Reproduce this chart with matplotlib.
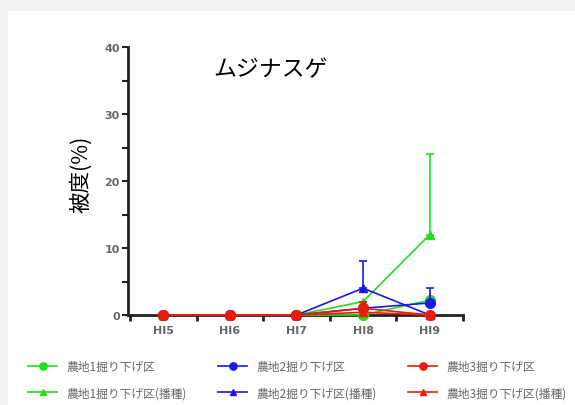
"""Cover (%) of ムジナスゲ per plot, HI5-HI9."""
import matplotlib

matplotlib.use("Agg")
import matplotlib.pyplot as plt  # noqa: E402
from matplotlib.patches import Rectangle  # noqa: E402
from matplotlib.ticker import MultipleLocator  # noqa: E402

plt.rcParams["font.family"] = ["Noto Sans CJK JP", "DejaVu Sans"]

years = ["HI5", "HI6", "HI7", "HI8", "HI9"]

plot1_mean = [0, 0, 0, 0, 2.2]
plot1_err = [0, 0, 0, 0, 0]
plot1_sown_mean = [0, 0, 0, 2.0, 12.0]
plot1_sown_err = [0, 0, 0, 0, 12.0]

plot2_mean = [0, 0, 0, 1.0, 1.8]
plot2_err = [0, 0, 0, 0, 2.2]
plot2_sown_mean = [0, 0, 0, 4.0, 0]
plot2_sown_err = [0, 0, 0, 4.0, 0]

plot3_mean = [0, 0, 0, 1.0, 0]
plot3_err = [0, 0, 0, 1.0, 0]
plot3_sown_mean = [0, 0, 0, 0.4, 0]
plot3_sown_err = [0, 0, 0, 0, 0]

labels = [
    "農地1掘り下げ区", "農地1掘り下げ区(播種)",
    "農地2掘り下げ区", "農地2掘り下げ区(播種)",
    "農地3掘り下げ区", "農地3掘り下げ区(播種)",
]

GREEN = "#22dd22"
BLUE = "#1a1ae0"
RED = "#ee1a0a"

fig = plt.figure(figsize=(5.75, 4.06), dpi=100)
fig.patch.set_facecolor("#f0f0f0")
fig.add_artist(Rectangle((8 / 575, 0), 1, 1 - 12 / 406, transform=fig.transFigure,
                         facecolor="white", edgecolor="none", zorder=0))

ax = fig.add_axes([128 / 575, 1 - 316 / 406, 335 / 575, 268 / 406])
ax.set_facecolor("none")

x = list(range(len(years)))
series = [
    (plot1_mean, plot1_err, GREEN, "o"),
    (plot1_sown_mean, plot1_sown_err, GREEN, "^"),
    (plot2_mean, plot2_err, BLUE, "o"),
    (plot2_sown_mean, plot2_sown_err, BLUE, "^"),
    (plot3_mean, plot3_err, RED, "o"),
    (plot3_sown_mean, plot3_sown_err, RED, "^"),
]
handles = []
for i, (mean, err, color, marker) in enumerate(series):
    ms = 7 if marker == "o" else 6
    eb = ax.errorbar(x, mean, yerr=[[0] * len(err), err], color=color, marker=marker,
                     ms=ms, lw=1.2, elinewidth=1.2, capsize=3, capthick=1.2,
                     clip_on=False, zorder=3 + i)
    for art in eb.lines[1] + eb.lines[2]:
        art.set_clip_on(False)
    handles.append(eb.lines[0])

ax.set_xlim(-0.53, 4.5)
ax.set_ylim(0, 40)
ax.set_xticks(x)
ax.set_xticklabels(years)
ax.xaxis.set_minor_locator(MultipleLocator(1, offset=0.5))
ax.yaxis.set_major_locator(MultipleLocator(10))
ax.yaxis.set_minor_locator(MultipleLocator(5))

for side in ("top", "right"):
    ax.spines[side].set_visible(False)
for side in ("left", "bottom"):
    ax.spines[side].set_linewidth(2)
    ax.spines[side].set_color("#222222")

ax.tick_params(axis="x", which="major", length=0, pad=7, labelsize=8,
               labelcolor="#666666")
ax.tick_params(axis="x", which="minor", length=4, width=2, color="#222222")
ax.tick_params(axis="y", which="both", length=4, width=1.5, color="#222222",
               labelsize=8, labelcolor="#666666", pad=2)
for lab in ax.get_xticklabels() + ax.get_yticklabels():
    lab.set_fontweight("bold")
    lab.set_family(["DejaVu Sans"])

ax.set_title("ムジナスゲ", fontsize=16.5, x=0.424, y=0.865)
ax.set_ylabel("被度(%)", fontsize=15.5)
ax.yaxis.set_label_coords(-0.107, 0.53)

fig.legend(handles, labels, ncol=3,
           loc="lower left", bbox_to_anchor=(0.03, -0.012),
           frameon=False, fontsize=8.5, handlelength=2.5, handletextpad=0.8,
           markerscale=0.75, columnspacing=2.6, labelspacing=1.1,
           labelcolor="#666666")
fig.savefig("out.png", dpi=100)
